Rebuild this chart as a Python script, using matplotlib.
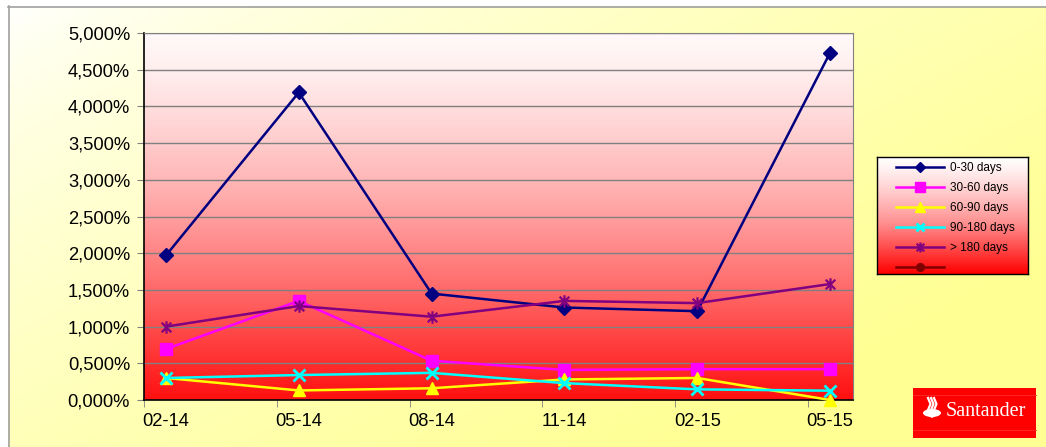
import numpy as np
import matplotlib
matplotlib.use("Agg")
import matplotlib.pyplot as plt
from matplotlib.path import Path
from matplotlib.colors import LinearSegmentedColormap
from matplotlib.patches import Rectangle, Ellipse, Polygon
from matplotlib.ticker import FuncFormatter, FixedLocator

categories = ["02-14", "05-14", "08-14", "11-14", "02-15", "05-15"]
series_names = ["0-30 days", "30-60 days", "60-90 days", "90-180 days", "> 180 days", " "]
d0_30 = [1.97, 4.19, 1.45, 1.26, 1.21, 4.73]
d30_60 = [0.695, 1.35, 0.535, 0.41, 0.42, 0.42]
d60_90 = [0.30, 0.13, 0.16, 0.28, 0.30, 0.0]
d90_180 = [0.30, 0.34, 0.37, 0.23, 0.145, 0.127]
d180 = [1.00, 1.28, 1.135, 1.35, 1.32, 1.58]
d_empty = []
y_ticks = [0.0, 0.5, 1.0, 1.5, 2.0, 2.5, 3.0, 3.5, 4.0, 4.5, 5.0]

W, H = 1046, 447
fig = plt.figure(figsize=(W / 100, H / 100), dpi=100)
plt.rcParams['font.family'] = ['Liberation Sans', 'DejaVu Sans']

# figure background gradient
bg = fig.add_axes([0, 0, 1, 1], zorder=-10)
bg.set_xlim(0, W)
bg.set_ylim(H, 0)
bg.axis("off")
xx, yy = np.meshgrid(np.linspace(0, 1, 200), np.linspace(0, 1, 100))
t = np.clip((xx * 0.75 + yy * 0.6) / 1.1, 0, 1)
img = np.zeros((100, 200, 3))
img[..., 0] = 1.0
img[..., 1] = 1.0
img[..., 2] = 1.0 - 0.42 * t ** 0.7
bg.imshow(img, extent=[8, W, H, 6], aspect="auto", zorder=0)
bg.plot([8, W], [6.5, 6.5], color="#a0a0a0", lw=1.2, zorder=1)
bg.plot([8.5, 8.5], [6, H], color="#a0a0a0", lw=1.2, zorder=1)

# Santander logo
bg.add_patch(Rectangle((913, 388), 123, 50, facecolor="#ff0000", edgecolor="none", zorder=2))
bg.plot([913, 1036], [395, 395], color="#ff2a2a", lw=0.6, zorder=3)
bg.plot([913, 1036], [430, 430], color="#ff2a2a", lw=0.6, zorder=3)
bg.add_patch(Ellipse((932, 413), 18, 8, facecolor="white", edgecolor="none", zorder=3))
bg.add_patch(Polygon([[923, 413], [941, 413], [932, 418]], closed=True, facecolor="white", edgecolor="none", zorder=3))
for dx in (-3, 0, 3):
    bg.plot([931 + dx, 933.5 + dx, 931 + dx], [410, 404, 398], color="white", lw=1.6, zorder=3)
bg.text(946, 412, "Santander", color="white", fontsize=14.5, family="Liberation Serif",
        va="center", ha="left", zorder=4)

# main axes
L, R, T, B = 144, 853, 33, 400
ax = fig.add_axes([L / W, (H - B) / H, (R - L) / W, (B - T) / H])
ax.set_facecolor("none")
cmap = LinearSegmentedColormap.from_list("wr", ["#fff8f8", "#ffb0b0", "#ff6060", "#ff1010"])
grad = np.linspace(0, 1, 256).reshape(-1, 1)
ax.imshow(grad ** 1.3, cmap=cmap, extent=[0, 1, 0, 1], transform=ax.transAxes,
          aspect="auto", zorder=0)

x = np.arange(len(categories))
asterisk = Path([(-1, -1), (1, 1), (-1, 1), (1, -1), (0, -1.3), (0, 1.3)],
                [Path.MOVETO, Path.LINETO] * 3)
styles = [
    (d0_30, "#000080", "D", 7, 1),
    (d30_60, "#ff00ff", "s", 9, 1),
    (d60_90, "#ffff00", "^", 9, 1),
    (d90_180, "#00ffff", "x", 8, 2),
    (d180, "#800080", asterisk, 9, 1.6),
    (d_empty, "#800000", "o", 7, 1),
]
for i, (vals, col, mk, ms, mew) in enumerate(styles):
    xs = x[:len(vals)]
    ax.plot(xs, vals, color=col, lw=1.8, marker=mk, markersize=ms,
            markerfacecolor=col, markeredgecolor=col, markeredgewidth=mew,
            label=series_names[i], zorder=3 + i, clip_on=False)

off = 22 / 133
ax.set_xlim(-off, 5 + 23 / 133)
ax.set_ylim(0, 5)
ax.yaxis.set_major_locator(FixedLocator(y_ticks))
ax.yaxis.set_major_formatter(FuncFormatter(lambda v, p: f"{v:.3f}".replace(".", ",") + "%"))
ax.grid(axis="y", color="#808080", lw=1, zorder=1)
ax.set_xticks(x)
ax.set_xticklabels(categories)
ax.set_xticks(x - off, minor=True)
ax.tick_params(axis="x", which="major", length=0, labelsize=13.2, pad=9)
ax.tick_params(axis="x", which="minor", length=5, color="#808080")
ax.tick_params(axis="y", length=5, labelsize=13.2, color="#808080", pad=5)
for s in ("top", "right"):
    ax.spines[s].set_color("#808080")
for s in ("left", "bottom"):
    ax.spines[s].set_color("black")
    ax.spines[s].set_linewidth(1.2)

# legend box with gradient
lx0, lx1, ly0, ly1 = 877, 1028, 157, 274
lax = fig.add_axes([lx0 / W, (H - ly1) / H, (lx1 - lx0) / W, (ly1 - ly0) / H])
lax.imshow(grad ** 1.2, cmap=LinearSegmentedColormap.from_list("wr2", ["#ffffff", "#ff9090", "#ff0000"]),
           extent=[0, 1, 0, 1], aspect="auto")
lax.set_xlim(0, 1)
lax.set_ylim(0, 1)
lax.set_xticks([])
lax.set_yticks([])
for s in lax.spines.values():
    s.set_color("black")
    s.set_linewidth(1)
handles, labels = ax.get_legend_handles_labels()
leg = lax.legend(handles, labels, loc="upper left", bbox_to_anchor=(0.11, 0.98), frameon=False,
                 fontsize=8.5, handlelength=4.1, labelspacing=0.68, handletextpad=0.45,
                 borderaxespad=0, borderpad=0.2, markerscale=0.8)

fig.savefig("out.png", dpi=100)
